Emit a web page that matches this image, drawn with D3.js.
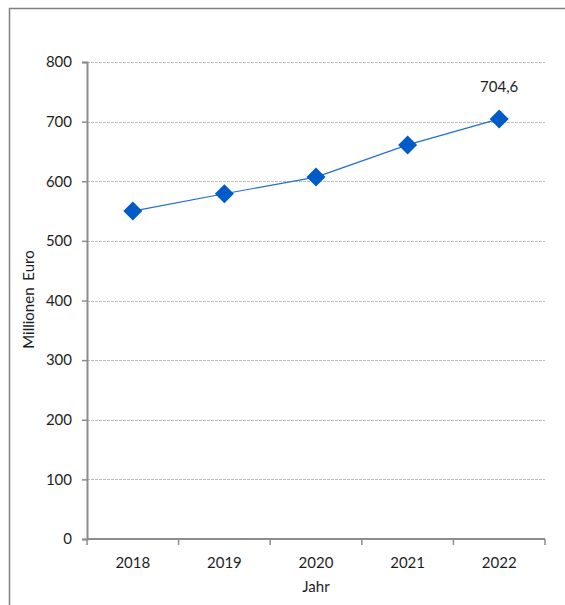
<!DOCTYPE html>
<html>
<head>
<meta charset="utf-8">
<script src="https://cdn.jsdelivr.net/npm/d3@7"></script>
<style>
  html, body { margin: 0; padding: 0; background: #fff; }
  svg { display: block; font-family: Lato, "Noto Sans", sans-serif; }
</style>
</head>
<body>
<svg id="chart" width="565" height="605"></svg>
<script>
// Jahreswerte in Millionen Euro
const years = ["2018", "2019", "2020", "2021", "2022"];
const values = [550, 579, 607, 661, 704.6];
const yTicks = [0, 100, 200, 300, 400, 500, 600, 700, 800];
const labelledYear = "2022";

const svg = d3.select("#chart");
const W = 565, H = 605;
const m = { left: 87, right: 20, top: 62, bottom: 66 };
const plotW = W - m.left - m.right;
const plotH = H - m.top - m.bottom;
const FS = 15;
const TXT = "#1e1e1e";

// outer frame (right and bottom edges run off the canvas)
svg.append("rect")
  .attr("x", 9.5).attr("y", 8.5)
  .attr("width", W + 10).attr("height", H + 10)
  .attr("fill", "#fff")
  .attr("stroke", "#808080").attr("stroke-width", 1.5);

const g = svg.append("g").attr("transform", `translate(${m.left},${m.top})`);

const x = d3.scaleBand().domain(years).range([0, plotW]).padding(0);
const y = d3.scaleLinear().domain([0, 800]).range([plotH, 0]);

// horizontal gridlines
g.append("g").selectAll("line")
  .data(yTicks.filter(t => t > 0))
  .join("line")
  .attr("x1", 0).attr("x2", plotW)
  .attr("y1", d => Math.round(y(d)) + 0.5).attr("y2", d => Math.round(y(d)) + 0.5)
  .attr("stroke", "#bdbdbd").attr("stroke-width", 1)
  .attr("stroke-dasharray", "3,1");

// y axis
const yAxis = g.append("g")
  .call(d3.axisLeft(y).tickValues(yTicks).tickSize(5).tickPadding(10).tickFormat(d3.format("d")));
yAxis.select(".domain").attr("stroke", "#8c8c8c").attr("stroke-width", 2);
yAxis.selectAll(".tick line").attr("stroke", "#8c8c8c").attr("stroke-width", 1.5);
yAxis.selectAll("text").attr("font-size", FS).attr("fill", TXT)
  .attr("font-family", "Lato, \"Noto Sans\", sans-serif");

// x axis with ticks at the band boundaries
const xAxisG = g.append("g").attr("transform", `translate(0,${plotH})`);
xAxisG.append("line")
  .attr("x1", 0).attr("x2", plotW).attr("y1", 0).attr("y2", 0)
  .attr("stroke", "#8c8c8c").attr("stroke-width", 2);
const bounds = years.map(d => x(d)).concat([plotW]);
xAxisG.selectAll("line.tk")
  .data(bounds).join("line").attr("class", "tk")
  .attr("x1", d => d).attr("x2", d => d).attr("y1", 0).attr("y2", 6)
  .attr("stroke", "#8c8c8c").attr("stroke-width", 1.5);
xAxisG.selectAll("text")
  .data(years).join("text")
  .attr("x", d => x(d) + x.bandwidth() / 2).attr("y", 29)
  .attr("text-anchor", "middle").attr("font-size", FS).attr("fill", TXT)
  .text(d => d);

// axis titles
svg.append("text")
  .attr("x", m.left + plotW / 2).attr("y", 592)
  .attr("text-anchor", "middle").attr("font-size", FS).attr("fill", TXT)
  .text("Jahr");
svg.append("text")
  .attr("transform", `translate(34,${m.top + plotH / 2 - 1}) rotate(-90)`)
  .attr("text-anchor", "middle").attr("font-size", FS).attr("fill", TXT)
  .attr("word-spacing", 3)
  .text("Millionen Euro");

// data line
const pts = years.map((yr, i) => ({ yr, v: values[i] }));
const cx = d => x(d.yr) + x.bandwidth() / 2;
g.append("path")
  .datum(pts)
  .attr("fill", "none").attr("stroke", "#1f6fd1").attr("stroke-width", 1.2)
  .attr("d", d3.line().x(cx).y(d => y(d.v)));

// diamond markers
const r = 9.5;
g.selectAll("path.mk")
  .data(pts).join("path").attr("class", "mk")
  .attr("transform", d => `translate(${cx(d)},${y(d.v)})`)
  .attr("d", `M0,${-r}L${r},0L0,${r}L${-r},0Z`)
  .attr("fill", "#005bc8");

// value label
const lp = pts.find(d => d.yr === labelledYear);
g.append("text")
  .attr("x", cx(lp)).attr("y", y(lp.v) - 27)
  .attr("text-anchor", "middle").attr("font-size", FS).attr("fill", TXT)
  .text(d3.format(".1f")(lp.v).replace(".", ","));
</script>
</body>
</html>
